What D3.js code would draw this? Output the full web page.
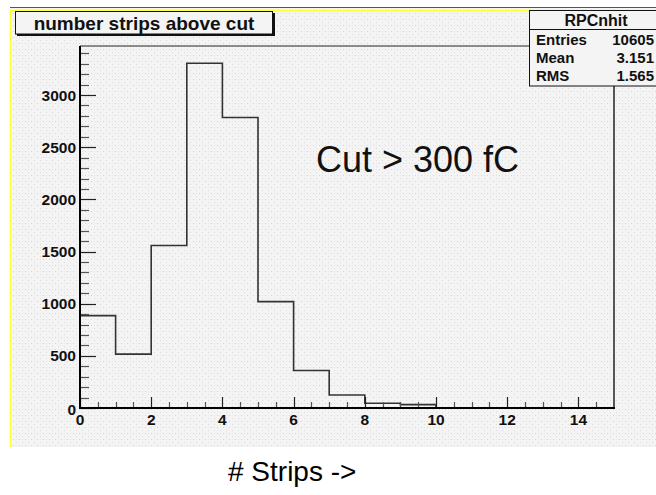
<!DOCTYPE html>
<html>
<head>
<meta charset="utf-8">
<script src="https://cdn.jsdelivr.net/npm/d3@7"></script>
<style>
  html, body { margin: 0; padding: 0; background: #ffffff; }
  svg { display: block; }
  text { font-family: "Liberation Sans", Arial, Helvetica, sans-serif; }
</style>
</head>
<body>
<svg id="chart" width="656" height="495"></svg>
<script>
// ---- data ----
const binLow = [0,1,2,3,4,5,6,7,8,9,10,11,12,13,14];
const counts = [886, 516, 1558, 3305, 2785, 1020, 360, 124, 45, 32, 0, 0, 0, 0, 0];
const xTickLabels = [0, 2, 4, 6, 8, 10, 12, 14];
const yTickLabels = [0, 500, 1000, 1500, 2000, 2500, 3000];
const titleText = "number strips above cut";
const statsTitle = "RPCnhit";
const statsNames = ["Entries", "Mean", "RMS"];
const statsValues = ["10605", "3.151", "1.565"];
const annotation = "Cut > 300 fC";
const xAxisTitle = "# Strips ->";

// ---- layout ----
const svg = d3.select("#chart");
const frame = {left: 80, right: 614, top: 46, bottom: 408};
const x = d3.scaleLinear().domain([0, 15]).range([frame.left, frame.right]);
const yMax = d3.max(counts) * 1.05;
const y = d3.scaleLinear().domain([0, yMax]).range([frame.bottom, frame.top]);

// dotted background pattern
const defs = svg.append("defs");
const pat = defs.append("pattern").attr("id", "dots")
  .attr("patternUnits", "userSpaceOnUse").attr("width", 6).attr("height", 6);
pat.append("rect").attr("width", 6).attr("height", 6).attr("fill", "#f4f4f4");
pat.append("rect").attr("x", 1).attr("y", 1).attr("width", 1).attr("height", 1).attr("fill", "#d6d6d6");
pat.append("rect").attr("x", 4).attr("y", 4).attr("width", 1).attr("height", 1).attr("fill", "#dcdcdc");
pat.append("rect").attr("x", 4).attr("y", 1).attr("width", 1).attr("height", 1).attr("fill", "#e6e6e6");

// canvas
svg.append("rect").attr("x", 10).attr("y", 7).attr("width", 646).attr("height", 440)
  .attr("fill", "url(#dots)");
svg.append("line").attr("x1", 10).attr("x2", 656).attr("y1", 7.5).attr("y2", 7.5)
  .attr("stroke", "#555").attr("stroke-width", 1);
svg.append("line").attr("x1", 10).attr("x2", 656).attr("y1", 10.5).attr("y2", 10.5)
  .attr("stroke", "#ffff33").attr("stroke-width", 1.5);
svg.append("line").attr("x1", 10.5).attr("x2", 10.5).attr("y1", 10).attr("y2", 447)
  .attr("stroke", "#ffff33").attr("stroke-width", 1.5);

// frame top/right
svg.append("line").attr("x1", frame.left).attr("x2", frame.right)
  .attr("y1", frame.top).attr("y2", frame.top).attr("stroke", "#222").attr("stroke-width", 1.2);
svg.append("line").attr("x1", frame.right).attr("x2", frame.right)
  .attr("y1", frame.top).attr("y2", frame.bottom).attr("stroke", "#222").attr("stroke-width", 1.5);

// histogram outline
const pts = [[0, 0]];
binLow.forEach((b, i) => { pts.push([b, counts[i]]); pts.push([b + 1, counts[i]]); });
pts.push([15, 0]);
const line = d3.line().x(d => x(d[0])).y(d => y(d[1]));
svg.append("path").attr("d", line(pts)).attr("fill", "none")
  .attr("stroke", "#333").attr("stroke-width", 1.6);

// y axis ticks
const yMinor = d3.range(0, yMax, 100);
svg.append("g").selectAll("line").data(yMinor).join("line")
  .attr("x1", frame.left).attr("x2", d => frame.left + (d % 500 === 0 ? 16 : 9))
  .attr("y1", d => Math.round(y(d)) + 0.5).attr("y2", d => Math.round(y(d)) + 0.5)
  .attr("stroke", d => d % 500 === 0 ? "#222" : "#555").attr("stroke-width", 1.2);
svg.append("g").selectAll("text").data(yTickLabels).join("text")
  .attr("x", 76).attr("y", d => y(d) + (d === 0 ? 7 : 5.5))
  .attr("text-anchor", "end").attr("font-weight", "bold").attr("font-size", 15.5)
  .attr("fill", "#111").text(d => d);

// x axis ticks
const xMinor = d3.range(0, 15, 0.5);
svg.append("g").selectAll("line").data(xMinor).join("line")
  .attr("x1", d => Math.round(x(d)) + 0.5).attr("x2", d => Math.round(x(d)) + 0.5)
  .attr("y1", frame.bottom).attr("y2", d => frame.bottom - (d % 2 === 0 ? 11 : 6))
  .attr("stroke", d => d % 2 === 0 ? "#222" : "#555").attr("stroke-width", 1.2);
svg.append("g").selectAll("text").data(xTickLabels).join("text")
  .attr("x", d => x(d)).attr("y", 425)
  .attr("text-anchor", "middle").attr("font-weight", "bold").attr("font-size", 15.5)
  .attr("fill", "#111").text(d => d);

// axes lines
svg.append("line").attr("x1", frame.left).attr("x2", frame.left)
  .attr("y1", frame.top).attr("y2", frame.bottom + 1).attr("stroke", "#000").attr("stroke-width", 2);
svg.append("line").attr("x1", frame.left - 1).attr("x2", frame.right + 1)
  .attr("y1", frame.bottom).attr("y2", frame.bottom).attr("stroke", "#000").attr("stroke-width", 2);

// title box
svg.append("rect").attr("x", 17).attr("y", 13).attr("width", 258).attr("height", 23).attr("fill", "#111");
svg.append("rect").attr("x", 15.5).attr("y", 11.5).attr("width", 257).attr("height", 22.5)
  .attr("fill", "#f4f4f4").attr("stroke", "#111").attr("stroke-width", 1);
svg.append("text").attr("x", 144).attr("y", 29.5).attr("text-anchor", "middle")
  .attr("font-weight", "bold").attr("font-size", 19).attr("fill", "#111").text(titleText);

// stats box
svg.append("rect").attr("x", 529.5).attr("y", 10.5).attr("width", 130).attr("height", 75.5)
  .attr("fill", "#f4f4f4").attr("stroke", "#111").attr("stroke-width", 1);
svg.append("line").attr("x1", 529.5).attr("x2", 656).attr("y1", 29.5).attr("y2", 29.5)
  .attr("stroke", "#111").attr("stroke-width", 1);
svg.append("text").attr("x", 596).attr("y", 26).attr("text-anchor", "middle")
  .attr("font-weight", "bold").attr("font-size", 16).attr("fill", "#111").text(statsTitle);
svg.append("g").selectAll("text").data(statsNames).join("text")
  .attr("x", 536).attr("y", (d, i) => 45 + i * 18)
  .attr("font-weight", "bold").attr("font-size", 15).attr("fill", "#111").text(d => d);
svg.append("g").selectAll("text").data(statsValues).join("text")
  .attr("x", 654).attr("y", (d, i) => 45 + i * 18).attr("text-anchor", "end")
  .attr("font-weight", "bold").attr("font-size", 15).attr("fill", "#111").text(d => d);

// annotation
svg.append("text").attr("x", 316).attr("y", 172)
  .attr("font-size", 36).attr("fill", "#111").text(annotation);

// x title
svg.append("text").attr("x", 228).attr("y", 481)
  .attr("font-size", 28).attr("fill", "#000").text(xAxisTitle);
</script>
</body>
</html>
